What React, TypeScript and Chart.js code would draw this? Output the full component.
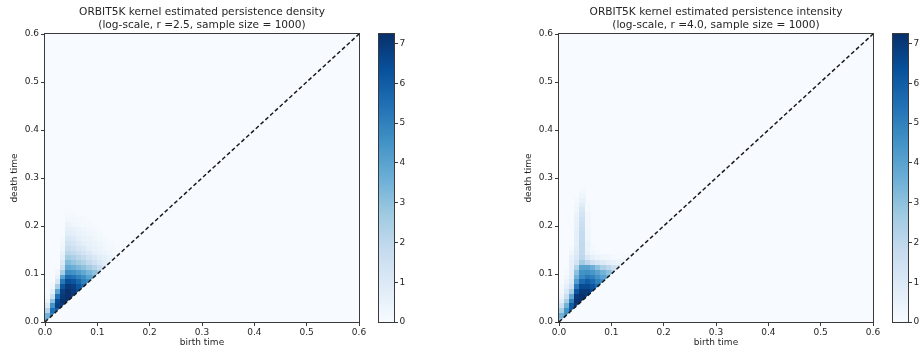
import React, { useEffect, useRef } from "react";
import { Chart, registerables } from "chart.js";

Chart.register(...registerables);

// ---------------- data ----------------
const axisTicks = [0, 0.1, 0.2, 0.3, 0.4, 0.5, 0.6];
const colorbarTicks = [0, 1, 2, 3, 4, 5, 6, 7];
const colorMax = 7.24;
const diagonal = [0, 0.6];

const densityTitle = ["ORBIT5K kernel estimated persistence density", "(log-scale, r =2.5, sample size = 1000)"];
const intensityTitle = ["ORBIT5K kernel estimated persistence intensity", "(log-scale, r =4.0, sample size = 1000)"];
const xLabel = "birth time";
const yLabel = "death time";

// cell edges (birth columns, death rows)
const birthEdges = [0, 0.01, 0.02, 0.03, 0.04, 0.05, 0.06, 0.07, 0.08, 0.09, 0.1, 0.11, 0.12, 0.13, 0.14];
const densityDeathEdges = [0, 0.01, 0.02, 0.03, 0.04, 0.05, 0.06, 0.07, 0.08, 0.09, 0.1, 0.11, 0.12, 0.13, 0.14, 0.15, 0.16, 0.17, 0.18, 0.19, 0.2, 0.21, 0.22, 0.23];
const intensityDeathEdges = [0, 0.01, 0.02, 0.03, 0.04, 0.05, 0.06, 0.07, 0.08, 0.09, 0.1, 0.11, 0.12, 0.13, 0.14, 0.15, 0.16, 0.17, 0.18, 0.19, 0.2, 0.21, 0.22, 0.23, 0.24, 0.25, 0.26, 0.27, 0.28];

// log-density values, rows from death=0 upward, columns from birth=0 rightward
const densityGrid = [
  [4.0, 0, 0, 0, 0, 0, 0, 0, 0, 0, 0, 0, 0, 0],
  [3.5, 5.0, 0, 0, 0, 0, 0, 0, 0, 0, 0, 0, 0, 0],
  [2.2, 5.5, 6.0, 0, 0, 0, 0, 0, 0, 0, 0, 0, 0, 0],
  [1.0, 4.5, 6.8, 7.0, 0, 0, 0, 0, 0, 0, 0, 0, 0, 0],
  [0.4, 3.0, 6.5, 7.2, 7.2, 0, 0, 0, 0, 0, 0, 0, 0, 0],
  [0.1, 1.5, 5.5, 7.0, 7.2, 7.0, 0, 0, 0, 0, 0, 0, 0, 0],
  [0, 0.6, 4.0, 6.8, 7.2, 7.0, 6.5, 0, 0, 0, 0, 0, 0, 0],
  [0, 0.2, 2.5, 6.2, 7.0, 6.8, 6.2, 5.6, 0, 0, 0, 0, 0, 0],
  [0, 0, 1.2, 5.2, 6.4, 6.2, 5.7, 5.0, 4.6, 0, 0, 0, 0, 0],
  [0, 0, 0.5, 4.0, 5.6, 5.4, 5.0, 4.6, 4.0, 3.6, 0, 0, 0, 0],
  [0, 0, 0.2, 2.5, 4.6, 4.5, 4.2, 3.8, 3.4, 3.0, 2.4, 0, 0, 0],
  [0, 0, 0, 1.5, 3.8, 3.6, 3.3, 3.0, 2.6, 2.2, 1.7, 1.2, 0, 0],
  [0, 0, 0, 1.0, 3.2, 2.9, 2.6, 2.3, 1.9, 1.5, 1.1, 0.8, 0.5, 0],
  [0, 0, 0, 0.7, 2.6, 2.4, 2.1, 1.8, 1.4, 1.1, 0.8, 0.6, 0.4, 0.2],
  [0, 0, 0, 0.5, 2.1, 1.9, 1.6, 1.3, 1.0, 0.7, 0.5, 0.4, 0.3, 0.1],
  [0, 0, 0, 0.3, 1.7, 1.5, 1.2, 1.0, 0.7, 0.5, 0.4, 0.3, 0.2, 0.1],
  [0, 0, 0, 0.2, 1.4, 1.2, 0.9, 0.7, 0.5, 0.4, 0.3, 0.2, 0.1, 0],
  [0, 0, 0, 0.1, 1.1, 0.9, 0.7, 0.5, 0.4, 0.3, 0.2, 0.1, 0, 0],
  [0, 0, 0, 0, 0.8, 0.7, 0.5, 0.4, 0.3, 0.2, 0.1, 0, 0, 0],
  [0, 0, 0, 0, 0.6, 0.5, 0.4, 0.3, 0.2, 0.1, 0, 0, 0, 0],
  [0, 0, 0, 0, 0.4, 0.3, 0.2, 0.1, 0.1, 0, 0, 0, 0, 0],
  [0, 0, 0, 0, 0.2, 0.2, 0.1, 0.1, 0, 0, 0, 0, 0, 0],
  [0, 0, 0, 0, 0.1, 0.1, 0, 0, 0, 0, 0, 0, 0, 0],
];

const intensityGrid = [
  [3.0, 0, 0, 0, 0, 0, 0, 0, 0, 0, 0, 0, 0, 0],
  [3.5, 4.5, 0, 0, 0, 0, 0, 0, 0, 0, 0, 0, 0, 0],
  [2.5, 4.5, 6.0, 0, 0, 0, 0, 0, 0, 0, 0, 0, 0, 0],
  [1.5, 3.5, 6.0, 7.0, 0, 0, 0, 0, 0, 0, 0, 0, 0, 0],
  [0.8, 2.5, 5.0, 7.2, 7.2, 0, 0, 0, 0, 0, 0, 0, 0, 0],
  [0.4, 1.6, 3.8, 7.0, 7.2, 7.0, 0, 0, 0, 0, 0, 0, 0, 0],
  [0.2, 1.0, 2.5, 6.2, 7.0, 7.0, 6.5, 0, 0, 0, 0, 0, 0, 0],
  [0.1, 0.7, 1.5, 5.2, 6.5, 6.5, 6.2, 5.6, 0, 0, 0, 0, 0, 0],
  [0, 0.4, 1.0, 4.2, 5.6, 6.0, 5.6, 5.0, 4.6, 0, 0, 0, 0, 0],
  [0, 0.2, 0.8, 3.5, 4.8, 5.2, 5.0, 4.5, 4.0, 3.6, 0, 0, 0, 0],
  [0, 0.1, 0.7, 3.0, 4.5, 4.6, 4.4, 4.0, 3.5, 3.0, 2.4, 0, 0, 0],
  [0, 0, 0.7, 2.2, 4.0, 4.0, 3.6, 3.0, 2.4, 2.0, 1.5, 1.2, 0, 0],
  [0, 0, 0.6, 1.3, 2.6, 2.0, 1.5, 1.2, 0.9, 0.7, 0.5, 0.4, 0.4, 0],
  [0, 0, 0.5, 1.0, 2.0, 1.0, 0.6, 0.4, 0.3, 0.2, 0.1, 0, 0.1, 0.1],
  [0, 0, 0.3, 0.9, 1.9, 0.5, 0.3, 0.1, 0, 0, 0, 0, 0, 0],
  [0, 0, 0.1, 0.8, 1.9, 0.4, 0.1, 0, 0, 0, 0, 0, 0, 0],
  [0, 0, 0, 0.7, 1.9, 0.4, 0, 0, 0, 0, 0, 0, 0, 0],
  [0, 0, 0, 0.7, 1.8, 0.3, 0, 0, 0, 0, 0, 0, 0, 0],
  [0, 0, 0, 0.6, 1.8, 0.3, 0, 0, 0, 0, 0, 0, 0, 0],
  [0, 0, 0, 0.6, 1.7, 0.3, 0, 0, 0, 0, 0, 0, 0, 0],
  [0, 0, 0, 0.5, 1.6, 0.2, 0, 0, 0, 0, 0, 0, 0, 0],
  [0, 0, 0, 0.5, 1.5, 0.2, 0, 0, 0, 0, 0, 0, 0, 0],
  [0, 0, 0, 0.4, 1.3, 0.2, 0, 0, 0, 0, 0, 0, 0, 0],
  [0, 0, 0, 0.3, 1.1, 0.1, 0, 0, 0, 0, 0, 0, 0, 0],
  [0, 0, 0, 0.2, 0.8, 0.1, 0, 0, 0, 0, 0, 0, 0, 0],
  [0, 0, 0, 0.1, 0.5, 0, 0, 0, 0, 0, 0, 0, 0, 0],
  [0, 0, 0, 0, 0.3, 0, 0, 0, 0, 0, 0, 0, 0, 0],
  [0, 0, 0, 0, 0.1, 0, 0, 0, 0, 0, 0, 0, 0, 0],
];

// ---------------- style ----------------
const FONT = "'DejaVu Sans', sans-serif";
const TEXT = "#262626";
const SPINE = "#3a3a3a";
const BLUES = ["#f7fbff", "#deebf7", "#c6dbef", "#9ecae1", "#6baed6", "#4292c6", "#2171b5", "#08519c", "#08306b"];

function hexToRgb(h: string) {
  return [parseInt(h.slice(1, 3), 16), parseInt(h.slice(3, 5), 16), parseInt(h.slice(5, 7), 16)];
}
function blues(t: number) {
  const c = Math.max(0, Math.min(1, t)) * (BLUES.length - 1);
  const i = Math.min(Math.floor(c), BLUES.length - 2);
  const f = c - i;
  const a = hexToRgb(BLUES[i]);
  const b = hexToRgb(BLUES[i + 1]);
  const m = a.map((v, k) => Math.round(v + (b[k] - v) * f));
  return `rgb(${m[0]},${m[1]},${m[2]})`;
}

const framePlugin = {
  id: "frame",
  afterDatasetsDraw(chart: any) {
    const { ctx, chartArea: a } = chart;
    ctx.save();
    ctx.strokeStyle = SPINE;
    ctx.lineWidth = 1;
    ctx.strokeRect(Math.round(a.left) - 0.5, Math.round(a.top) - 0.5, Math.round(a.width) + 1, Math.round(a.height) + 1);
    ctx.restore();
  },
};

function heatmapPlugin(grid: number[][], deathEdges: number[]) {
  return {
    id: "heatmap",
    beforeDatasetsDraw(chart: any) {
      const { ctx, chartArea: a, scales } = chart;
      const x = scales.x;
      const y = scales.y;
      ctx.save();
      ctx.fillStyle = blues(0);
      ctx.fillRect(a.left, a.top, a.width, a.height);
      ctx.beginPath();
      ctx.moveTo(x.getPixelForValue(diagonal[0]), y.getPixelForValue(diagonal[0]));
      ctx.lineTo(x.getPixelForValue(diagonal[0]), y.getPixelForValue(diagonal[1]));
      ctx.lineTo(x.getPixelForValue(diagonal[1]), y.getPixelForValue(diagonal[1]));
      ctx.closePath();
      ctx.clip();
      grid.forEach((row, i) =>
        row.forEach((v, j) => {
          if (v <= 0) return;
          const x0 = Math.floor(x.getPixelForValue(birthEdges[j]));
          const x1 = Math.ceil(x.getPixelForValue(birthEdges[j + 1]));
          const y0 = Math.floor(y.getPixelForValue(deathEdges[i + 1]));
          const y1 = Math.ceil(y.getPixelForValue(deathEdges[i]));
          ctx.fillStyle = blues(v / colorMax);
          ctx.fillRect(x0, y0, x1 - x0, y1 - y0);
        })
      );
      ctx.restore();
    },
  };
}

const colorbarPlugin = {
  id: "colorbar",
  beforeDatasetsDraw(chart: any) {
    const { ctx, chartArea: a, scales } = chart;
    const y = scales.y;
    const y0 = y.getPixelForValue(0);
    const y1 = y.getPixelForValue(colorMax);
    const g = ctx.createLinearGradient(0, y0, 0, y1);
    BLUES.forEach((c, i) => g.addColorStop(i / (BLUES.length - 1), c));
    ctx.save();
    ctx.fillStyle = g;
    ctx.fillRect(a.left, a.top, a.width, a.height);
    ctx.restore();
  },
};

function makeMain(canvas: HTMLCanvasElement, title: string[], grid: number[][], deathEdges: number[]) {
  const tickFont = { family: FONT, size: 9 };
  const commonAxis = {
    type: "linear" as const,
    min: 0,
    max: 0.6,
    afterBuildTicks: (s: any) => {
      s.ticks = axisTicks.map((v) => ({ value: v }));
    },
    grid: { drawOnChartArea: false, drawTicks: true, tickLength: 4, color: SPINE },
    border: { display: false },
  };
  return new Chart(canvas, {
    type: "scatter",
    data: {
      datasets: [
        {
          data: [
            { x: diagonal[0], y: diagonal[0] },
            { x: diagonal[1], y: diagonal[1] },
          ],
          showLine: true,
          borderColor: "#1a1a1a",
          borderWidth: 1.5,
          borderDash: [4, 2.5],
          pointRadius: 0,
          fill: false,
        },
      ],
    },
    options: {
      animation: false,
      responsive: false,
      maintainAspectRatio: false,
      devicePixelRatio: 1,
      layout: { padding: { left: 0, right: 10, top: 0, bottom: 0 } },
      plugins: {
        legend: { display: false },
        tooltip: { enabled: false },
        title: {
          display: true,
          text: title,
          fullSize: false,
          color: TEXT,
          font: { family: FONT, size: 10.6, weight: "normal", lineHeight: 1.2 },
          padding: { top: 6.3, bottom: 2.3 },
        },
      },
      scales: {
        x: {
          ...commonAxis,
          position: "bottom",
          ticks: { callback: (v: any) => Number(v).toFixed(1), color: TEXT, font: tickFont, padding: 1, maxRotation: 0, autoSkip: false },
          title: { display: true, text: xLabel, color: TEXT, font: { family: FONT, size: 9, lineHeight: 1.2 }, padding: { top: 0, bottom: 7.6 } },
          afterFit: (s: any) => {
            s.height = 34;
          },
        },
        y: {
          ...commonAxis,
          position: "left",
          ticks: { callback: (v: any) => Number(v).toFixed(1), color: TEXT, font: tickFont, padding: 2, autoSkip: false },
          title: { display: true, text: yLabel, color: TEXT, font: { family: FONT, size: 9, lineHeight: 1.2 }, padding: { top: 9.6, bottom: 0 } },
          afterFit: (s: any) => {
            s.width = 45;
          },
        },
      },
    } as any,
    plugins: [heatmapPlugin(grid, deathEdges), framePlugin],
  });
}

function makeColorbar(canvas: HTMLCanvasElement) {
  return new Chart(canvas, {
    type: "scatter",
    data: { datasets: [] },
    options: {
      animation: false,
      responsive: false,
      maintainAspectRatio: false,
      devicePixelRatio: 1,
      layout: { padding: { left: 9, right: 0, top: 34, bottom: 34 } },
      plugins: { legend: { display: false }, tooltip: { enabled: false }, title: { display: false } },
      scales: {
        x: { display: false, min: 0, max: 1 },
        y: {
          type: "linear",
          position: "right",
          min: 0,
          max: colorMax,
          afterBuildTicks: (s: any) => {
            s.ticks = colorbarTicks.map((v) => ({ value: v }));
          },
          ticks: { color: TEXT, font: { family: FONT, size: 9 }, padding: 1.5, autoSkip: false },
          grid: { drawOnChartArea: false, drawTicks: true, tickLength: 4, color: SPINE },
          border: { display: false },
          afterFit: (s: any) => {
            s.width = 11;
          },
        },
      },
    } as any,
    plugins: [colorbarPlugin, framePlugin],
  });
}

export default function App() {
  const leftRef = useRef<HTMLCanvasElement>(null);
  const rightRef = useRef<HTMLCanvasElement>(null);
  const cb1Ref = useRef<HTMLCanvasElement>(null);
  const cb2Ref = useRef<HTMLCanvasElement>(null);

  useEffect(() => {
    const charts = [
      makeMain(leftRef.current!, densityTitle, densityGrid, densityDeathEdges),
      makeMain(rightRef.current!, intensityTitle, intensityGrid, intensityDeathEdges),
      makeColorbar(cb1Ref.current!),
      makeColorbar(cb2Ref.current!),
    ];
    return () => charts.forEach((c) => c.destroy());
  }, []);

  return (
    <div style={{ position: "absolute", left: 0, top: 0, width: 919, height: 356, overflow: "hidden", background: "#fff" }}>
      <canvas ref={leftRef} width={369} height={356} style={{ position: "absolute", left: 0, top: 0 }} />
      <canvas ref={cb1Ref} width={35} height={356} style={{ position: "absolute", left: 370, top: 0 }} />
      <canvas ref={rightRef} width={369} height={356} style={{ position: "absolute", left: 514, top: 0 }} />
      <canvas ref={cb2Ref} width={35} height={356} style={{ position: "absolute", left: 884, top: 0 }} />
    </div>
  );
}
